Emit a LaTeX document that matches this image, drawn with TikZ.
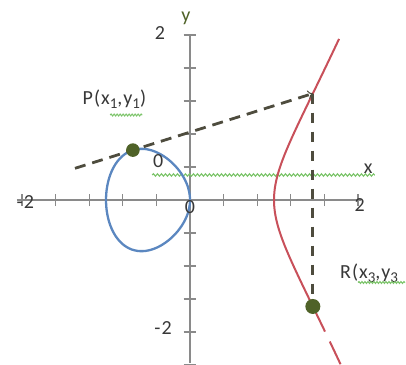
\documentclass[tikz,border=0pt]{standalone}
\usepackage{fontspec}
\setmainfont{Carlito}
\usetikzlibrary{decorations.pathmorphing,arrows.meta,calc}
\definecolor{axisgray}{HTML}{8A8A8A}
\definecolor{loopblue}{HTML}{5B87C0}
\definecolor{branchred}{HTML}{C8505A}
\definecolor{dashdark}{HTML}{4E4C3E}
\definecolor{dotgreen}{HTML}{4F6228}
\definecolor{wavegreen}{HTML}{7CC46A}
\definecolor{txt}{HTML}{383838}
\newcommand\lowidx[1]{\raisebox{-0.45ex}{\fontsize{15}{15}\selectfont #1}}
\begin{document}
\begin{tikzpicture}[x=84pt,y=82.5pt,
  axis/.style={draw=axisgray,line width=1.2pt},
  tick/.style={draw=axisgray,line width=1.2pt},
  lbl/.style={text=txt,font=\fontsize{20}{20}\selectfont\addfontfeatures{LetterSpace=5},inner sep=0pt},
  loopc/.style={draw=loopblue,line width=2.3pt},
  branch/.style={draw=branchred,line width=2pt},
  chord/.style={draw=dashdark,line width=2.8pt,dash pattern=on 11pt off 7pt},
  vchord/.style={draw=dashdark,line width=2.8pt,dash pattern=on 10pt off 9pt},
  wavy/.style={draw=wavegreen,line width=1.1pt,decorate,decoration={snake,amplitude=1.2pt,segment length=4pt}},
  dot/.style={fill=dotgreen}]
\useasboundingbox (-2.2619,-2.0) rectangle (2.5714,2.4242);
% axes
\coordinate (xl) at (-2.06,0);
\coordinate (xr) at (2.03,0);
\coordinate (yb) at (0,-1.97);
\coordinate (yt) at (0,2);
\draw[axis] (xl) -- (xr);
\draw[axis] (yb) -- (yt);
\foreach \i in {-5,...,5}{
  \draw[tick] (0.4*\i,-0.075) -- (0.4*\i,0.075);
  \draw[tick] (-0.075,0.4*\i) -- (0.075,0.4*\i);
}
% green wavy line
\coordinate (wl) at (-0.45,0.303);
\coordinate (wr) at (2.2,0.303);
\draw[wavy] (wl) -- (wr);
% curves
\draw[loopc] plot[domain=0:180,samples=90,smooth,variable=\t]
  ({-sin(\t)^2},{sin(\t)*cos(\t)*sqrt(1+sin(\t)^2)}) -- cycle;
\draw[branch] plot[domain=0.88:-0.78,samples=70,smooth,variable=\t]
  ({1+\t*\t},{\t*sqrt((1+\t*\t)*(2+\t*\t))});
\draw[branch] plot[domain=-0.815:-0.89,samples=10,smooth,variable=\t]
  ({1+\t*\t},{\t*sqrt((1+\t*\t)*(2+\t*\t))});
% points
\coordinate (P) at (-0.68,0.6046);
\coordinate (Q) at (1.4625,1.2906);
\coordinate (R) at (1.4625,-1.2906);
\coordinate (L) at (-1.369,0.384);
\draw[chord,-{To[length=5pt,width=9pt,line width=1pt]}] (L) -- (Q);
\draw[vchord] (Q) -- (R);
\fill[dot] (P) circle (6.8pt);
\fill[dot] (R) circle (7.5pt);
% labels
\node[lbl] (ylab) at (-0.05,2.2) {\textcolor{dotgreen}{y}};
\node[lbl] (xlab) at (2.12,0.38) {x};
\node[lbl] (y2) at (-0.357,2.03) {2};
\node[lbl] (ym2) at (-0.32,-1.55) {-2};
\node[lbl] (xm2) at (-1.96,-0.03) {-2};
\node[lbl] (x2) at (2.02,-0.06) {2};
\node[lbl] (o1) at (-0.38,0.47) {0};
\node[lbl] (o2) at (0,-0.09) {0};
\node[lbl] (plab) at (-0.9,1.22) {P(x\lowidx{1},y\lowidx{1})};
\node[lbl,anchor=west] (rlab) at (1.786,-0.885) {R(x\lowidx{3},y\lowidx{3}};
% spell-check underlines
\coordinate (pu1) at (-0.95,1.03);
\coordinate (pu2) at (-0.57,1.03);
\coordinate (ru1) at (2.0,-1.0);
\coordinate (ru2) at (2.56,-1.0);
\draw[wavy,decoration={amplitude=0.9pt,segment length=3pt}] (pu1) -- (pu2);
\draw[wavy,decoration={amplitude=0.9pt,segment length=3pt}] (ru1) -- (ru2);
\end{tikzpicture}
\end{document}
